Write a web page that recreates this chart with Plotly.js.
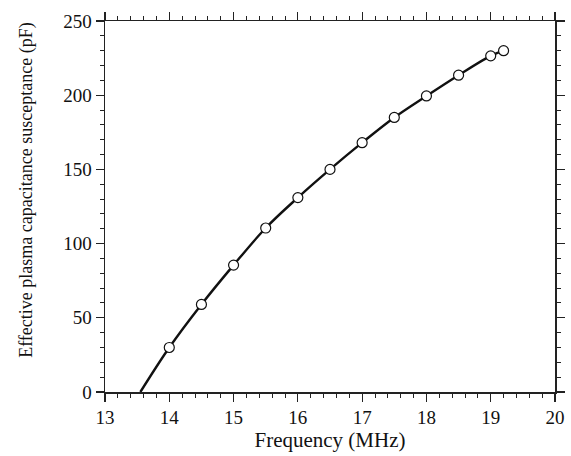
<!DOCTYPE html>
<html>
<head>
<meta charset="utf-8">
<script src="https://cdn.plot.ly/plotly-3.0.1.min.js"></script>
<style>html,body{margin:0;padding:0;background:#fff;}</style>
</head>
<body>
<div id="chart" style="width:571px;height:456px;"></div>
<script>
// Measured points
const freqMHz = [14, 14.5, 15, 15.5, 16, 16.5, 17, 17.5, 18, 18.5, 19, 19.2];
const capPF   = [30, 59, 85.5, 110.5, 131, 150, 168, 185, 199.5, 213.5, 226.5, 230];
// Fitted curve (starts at zero crossing)
const curveX = [13.55, 14, 14.5, 15, 15.5, 16, 16.5, 17, 17.5, 18, 18.5, 19, 19.2];
const curveY = [0, 30, 59, 85.5, 110.5, 131, 150, 168, 185, 199.5, 213.5, 226.5, 230];
const xTicks = [13, 14, 15, 16, 17, 18, 19, 20];
const yTicks = [0, 50, 100, 150, 200, 250];
const xTitle = 'Frequency (MHz)';
const yTitle = 'Effective plasma capacitance susceptance (pF)';

const fam = '"Liberation Serif", "DejaVu Serif", serif';
const tickFont = {family: fam, color: '#111', size: 19};

const traces = [
  {x: curveX, y: curveY, mode: 'lines', line: {color: '#111', width: 2.4, shape: 'spline'}, hoverinfo: 'skip', showlegend: false},
  {x: freqMHz, y: capPF, mode: 'markers', marker: {symbol: 'circle', size: 10, color: '#fff', line: {color: '#111', width: 1.2}}, showlegend: false}
];

const axisCommon = {
  showline: true, linecolor: '#222', linewidth: 1.5, mirror: 'ticks',
  ticks: 'outside', ticklen: 8, tickwidth: 1.2, tickcolor: '#222',
  showgrid: false, zeroline: false, tickfont: tickFont
};

const layout = {
  width: 571, height: 456,
  margin: {l: 105, r: 16, t: 21, b: 64},
  paper_bgcolor: '#fff', plot_bgcolor: '#fff',
  font: tickFont,
  xaxis: Object.assign({}, axisCommon, {
    range: [13, 20], tickvals: xTicks, ticktext: xTicks.map(String),
    minor: {dtick: 0.2, ticks: 'outside', ticklen: 4, tickwidth: 1, tickcolor: '#222', showgrid: false},
    title: {text: xTitle, font: {family: fam, color: '#111', size: 21}, standoff: 3}
  }),
  yaxis: Object.assign({}, axisCommon, {
    range: [0, 250], tickvals: yTicks, ticktext: yTicks.map(String),
    minor: {dtick: 10, ticks: 'outside', ticklen: 4, tickwidth: 1, tickcolor: '#222', showgrid: false}
  }),
  annotations: [{
    text: yTitle, textangle: -90, showarrow: false,
    xref: 'paper', yref: 'paper', x: 0, y: 0.545, xanchor: 'center', yanchor: 'middle',
    xshift: -78, font: {family: fam, color: '#111', size: 18}
  }]
};

Plotly.newPlot('chart', traces, layout, {displayModeBar: false, staticPlot: true});
</script>
</body>
</html>
